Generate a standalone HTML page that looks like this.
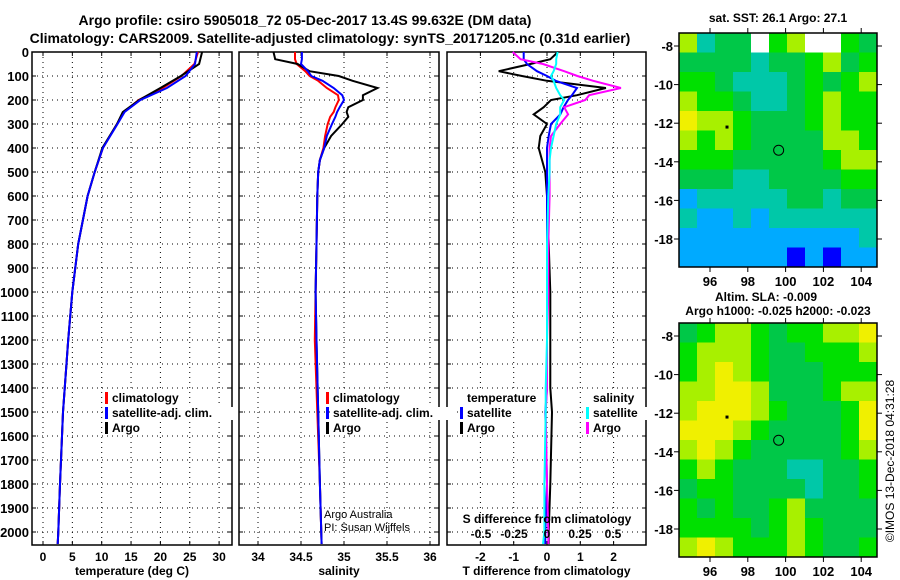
<!DOCTYPE html>
<html><head><meta charset="utf-8"><style>
body{margin:0;background:#fff}
svg{display:block;font-family:"Liberation Sans",sans-serif;font-weight:bold}
</style></head><body>
<svg id="c" width="900" height="580" viewBox="0 0 900 580">
<text x="305" y="25" text-anchor="middle" font-size="14">Argo profile: csiro 5905018_72 05-Dec-2017 13.4S 99.632E (DM data)</text>
<text x="330" y="43" text-anchor="middle" font-size="14">Climatology: CARS2009. Satellite-adjusted climatology: synTS_20171205.nc (0.31d earlier)</text>
</svg>
<script>
// ---- data ----
const depthTicks=[0,100,200,300,400,500,600,700,800,900,1000,1100,1200,1300,1400,1500,1600,1700,1800,1900,2000];
const tempDepth=[0,50,100,150,200,250,300,400,500,600,700,800,1000,1200,1500,1800,2000,2050];
const tempClim=[26.4,25.8,23.6,20.4,16.3,13.8,12.6,10.2,8.8,7.6,6.8,6.0,5.0,4.3,3.4,2.9,2.6,2.5];
const tempSat=[26.2,25.9,24.3,21.1,16.6,13.9,12.7,10.2,8.8,7.6,6.8,6.0,5.0,4.3,3.4,2.9,2.6,2.5];
const tempArgo=[27.1,26.6,23.5,20.0,16.4,13.6,12.6,10.1,8.8,7.6,6.8,6.0,5.0,4.3,3.4,2.9,2.6,2.5];
const salDepth=[0,30,50,80,100,120,150,180,200,230,250,270,300,350,400,450,500,600,800,1000,1200,1500,1800,2050];
const salArgo=[34.18,34.2,34.46,34.6,34.94,35.1,35.39,35.22,35.22,35.05,35.03,35.05,34.98,34.85,34.77,34.72,34.70,34.69,34.68,34.67,34.68,34.70,34.72,34.74];
const salClim=[34.43,34.43,34.45,34.55,34.6,34.7,34.8,34.93,34.94,34.9,34.88,34.84,34.81,34.78,34.76,34.72,34.70,34.69,34.68,34.67,34.66,34.69,34.72,34.74];
const salSat=[34.51,34.51,34.5,34.58,34.62,34.75,34.88,34.98,35.0,34.95,34.92,34.9,34.86,34.8,34.77,34.72,34.70,34.69,34.68,34.67,34.68,34.70,34.72,34.74];
const diffDepth=[0,30,50,80,100,120,150,180,200,230,260,300,350,400,450,500,600,800,1000,1200,1400,1500,1800,2000,2050];
const tDiffArgo=[0.33,0.1,-0.5,-1.45,-0.75,0,1.77,0.9,0.12,-0.1,-0.4,0,-0.2,-0.25,-0.15,-0.05,0,0.05,0.1,0.1,0.1,0.15,0.1,0.05,0.05];
const tDiffSat=[-0.7,-0.7,-0.6,-0.3,0,0.26,0.9,0.75,0.63,0.5,0.4,0.12,0.05,0,0,0,0,0,0,0,0,-0.05,0,-0.05,-0.05];
const sDiffArgo=[-0.26,-0.2,-0.03,0.13,0.23,0.35,0.56,0.32,0.29,0.13,0.16,0.1,0.03,0.02,0.02,0.02,0.02,0.01,0.01,0.0,0.0,-0.01,0.0,0.01,0.01];
const sDiffSat=[0.08,0.07,0.07,0.05,0.03,0.05,0.07,0.1,0.13,0.1,0.1,0.07,0.05,0.03,0.02,0.02,0.01,0.0,0.0,0.0,-0.01,-0.01,-0.02,-0.02,-0.03];
const tempTicks=[0,5,10,15,20,25,30];
const salTicks=[34,34.5,35,35.5,36];
const tdTicks=[-2,-1,0,1,2];
const sdTicks=[-0.5,-0.25,0,0.25,0.5];
const lonTicks=[96,98,100,102,104];
const latTicks=[-8,-10,-12,-14,-16,-18];
// SST grid (rows from north to south), 0=no data, 1..7 colour classes
const sstGrid=[
[6,3,4,4,0,5,6,0,0,5,4],
[4,4,4,4,3,4,4,5,6,4,5],
[5,5,4,3,3,3,4,5,4,5,6],
[6,5,5,4,3,3,4,5,6,5,5],
[7,6,6,5,4,4,4,5,6,5,5],
[6,5,6,5,4,4,4,4,6,6,5],
[5,5,5,4,4,4,4,4,5,6,6],
[4,4,4,3,3,4,4,4,4,5,5],
[2,3,3,3,3,3,4,4,3,4,4],
[3,2,2,3,2,3,3,3,3,3,3],
[2,2,2,2,2,2,2,2,2,2,3],
[2,2,2,2,2,2,1,2,1,2,2]];
const slaGrid=[
[4,5,6,6,5,4,5,5,6,6,7],
[5,6,6,6,5,4,4,5,5,5,6],
[5,6,7,6,5,4,4,4,5,5,5],
[6,6,7,7,6,4,4,4,5,6,6],
[6,7,7,7,6,5,4,4,4,5,7],
[7,7,7,6,5,4,4,4,4,5,7],
[6,7,6,5,4,4,4,4,4,5,6],
[5,6,5,4,4,4,3,3,4,4,5],
[4,5,5,4,4,4,4,3,4,4,5],
[5,4,5,4,4,5,6,4,4,4,4],
[5,5,5,5,4,5,6,5,4,4,4],
[6,7,6,5,5,5,6,5,4,4,5]];
const palette=['#ffffff','#0000ff','#00aaff','#00c8a8','#00c848','#00e000','#a8f000','#f0f000'];

// ---- helpers ----
const S=document.getElementById('c');const NS='http://www.w3.org/2000/svg';
function mk(tag,at,parent){const e=document.createElementNS(NS,tag);for(const k in at)e.setAttribute(k,at[k]);(parent||S).appendChild(e);return e;}
function txt(x,y,s,anchor,size,parent){const t=mk('text',{x:x,y:y,'text-anchor':anchor||'middle','font-size':size||12},parent);t.textContent=s;return t;}
const TOP=52,BOT=545;
const yD=d=>TOP+d*0.24;
const panels=[
 {x0:32,x1:232,sx:v=>43+v*5.87,ticks:tempTicks,label:'temperature (deg C)',name:'temperature'},
 {x0:239,x1:439,sx:v=>258+(v-34)*86,ticks:salTicks,label:'salinity',name:'salinity'},
 {x0:447,x1:646,sx:v=>547+v*33.3,ticks:tdTicks,label:'T difference from climatology',name:'difference'}];
const sxS=v=>547+v*132;

panels.forEach((p,i)=>{
 const g=mk('g',{});
 
 
 depthTicks.forEach(d=>{const l=mk('line',{x1:p.x0,x2:p.x1,y1:yD(d),y2:yD(d),stroke:'#000','stroke-dasharray':'1 4','stroke-width':1},g);
  
  mk('line',{x1:p.x0,x2:p.x0+4,y1:yD(d),y2:yD(d),stroke:'#000'},g);mk('line',{x1:p.x1-4,x2:p.x1,y1:yD(d),y2:yD(d),stroke:'#000'},g);
  if(i===0){const t=txt(29,yD(d)+5,String(d),'end',13,g);}
 });
 p.ticks.forEach(v=>{const x=p.sx(v);
  mk('line',{x1:x,x2:x,y1:TOP,y2:BOT,stroke:'#000','stroke-dasharray':'1 4'},g);
  mk('line',{x1:x,x2:x,y1:BOT-4,y2:BOT,stroke:'#000'},g);mk('line',{x1:x,x2:x,y1:TOP,y2:TOP+4,stroke:'#000'},g);
  const t=txt(x,561,String(v),'middle',12,g);
 });
 const r=mk('rect',{x:p.x0,y:TOP,width:p.x1-p.x0,height:BOT-TOP,fill:'none',stroke:'#000','stroke-width':1.5},g);
 
 const t=txt((p.x0+p.x1)/2,575,p.label,'middle',12,g);
});

function line(xs,ds,sx,col,name,w){const pts=xs.map((v,i)=>sx(v).toFixed(1)+','+Math.min(BOT,yD(ds[i])).toFixed(1)).join(' ');
 const e=mk('polyline',{points:pts,fill:'none',stroke:col,'stroke-width':w||2});
 
 }
line(tempClim,tempDepth,panels[0].sx,'#ff0000','temp-climatology-line');
line(tempArgo,tempDepth,panels[0].sx,'#000','temp-argo-line');
line(tempSat,tempDepth,panels[0].sx,'#0000ff','temp-satellite-line');
line(salClim,salDepth,panels[1].sx,'#ff0000','sal-climatology-line');
line(salArgo,salDepth,panels[1].sx,'#000','sal-argo-line');
line(salSat,salDepth,panels[1].sx,'#0000ff','sal-satellite-line');
line(tDiffArgo,diffDepth,panels[2].sx,'#000','tdiff-argo-line');
line(tDiffSat,diffDepth,panels[2].sx,'#0000ff','tdiff-satellite-line');
line(sDiffArgo,diffDepth,sxS,'#ff00ff','sdiff-argo-line');
line(sDiffSat,diffDepth,sxS,'#00ffff','sdiff-satellite-line');

function legend(x,y,items,name){const g=mk('g',{});
 
 items.forEach((it,i)=>{const yy=y+i*15;
  if(it[1])mk('rect',{x:x,y:yy-10,width:3,height:12,fill:it[1]},g);
  const w=it[0].length*6+2;mk('rect',{x:x+6,y:yy-10,width:w,height:13,fill:'#fff'},g);
  txt(x+7,yy,it[0],'start',12,g);});}
legend(105,402,[['climatology','#ff0000'],['satellite-adj. clim.','#0000ff'],['Argo','#000']],'temperature-legend');
legend(326,402,[['climatology','#ff0000'],['satellite-adj. clim.','#0000ff'],['Argo','#000']],'salinity-legend');
legend(460,402,[['temperature',null],['satellite','#0000ff'],['Argo','#000']],'tdiff-legend');
legend(586,402,[['salinity',null],['satellite','#00ffff'],['Argo','#ff00ff']],'sdiff-legend');
{const a=txt(324,518,'Argo Australia','start',11);a.setAttribute('font-weight','normal');
 const b=txt(324,531,'PI: Susan Wijffels','start',11);b.setAttribute('font-weight','normal');}
{const g=mk('g',{});
 txt(547,523,'S difference from climatology','middle',12,g);
 sdTicks.forEach(v=>{txt(sxS(v),538,String(v),'middle',12,g);});}

// maps
function map(y0,grid,name){const X0=679,X1=877,Y1=y0+234;
 const g=mk('g',{});
 const cw=(X1-X0)/grid[0].length,ch=(Y1-y0)/grid.length;
 grid.forEach((row,r)=>row.forEach((v,c)=>{const e=mk('rect',{x:X0+c*cw,y:y0+r*ch,width:cw+0.5,height:ch+0.5,fill:palette[v]},g);
  }));
 const lx=lon=>710+(lon-96)*18.9,ly=lat=>y0+13+(-8-lat)*19.3;
 mk('rect',{x:X0,y:y0,width:X1-X0,height:Y1-y0,fill:'none',stroke:'#000','stroke-width':1.5},g);
 lonTicks.forEach(l=>{mk('line',{x1:lx(l),x2:lx(l),y1:Y1,y2:Y1+5,stroke:'#000'},g);mk('line',{x1:lx(l),x2:lx(l),y1:y0-5,y2:y0,stroke:'#000'},g);txt(lx(l),Y1+19,String(l),'middle',13,g);});
 latTicks.forEach(l=>{mk('line',{x1:X0-5,x2:X0,y1:ly(l),y2:ly(l),stroke:'#000'},g);mk('line',{x1:X1,x2:X1+5,y1:ly(l),y2:ly(l),stroke:'#000'},g);txt(X0-6,ly(l)+5,String(l),'end',13,g);});
 mk('circle',{cx:lx(99.632),cy:ly(-13.4),r:5,fill:'none',stroke:'#000'},g);
 mk('rect',{x:lx(96.9)-1.5,y:ly(-12.2)-1.5,width:3,height:3,fill:'#000'},g);
}
map(33,sstGrid,'sst-map');
map(323,slaGrid,'sla-map');
{const t=txt(778,22,'sat. SST: 26.1 Argo: 27.1','middle',12);
 const a=txt(766,301,'Altim. SLA: -0.009','middle',12);
 const b=txt(778,315,'Argo h1000: -0.025 h2000: -0.023','middle',12);
 const c=txt(0,0,'©IMOS 13-Dec-2018 04:31:28','middle',12);c.setAttribute('font-weight','normal');c.setAttribute('transform','translate(894,461) rotate(-90)');
 }
</script>
</body></html>
